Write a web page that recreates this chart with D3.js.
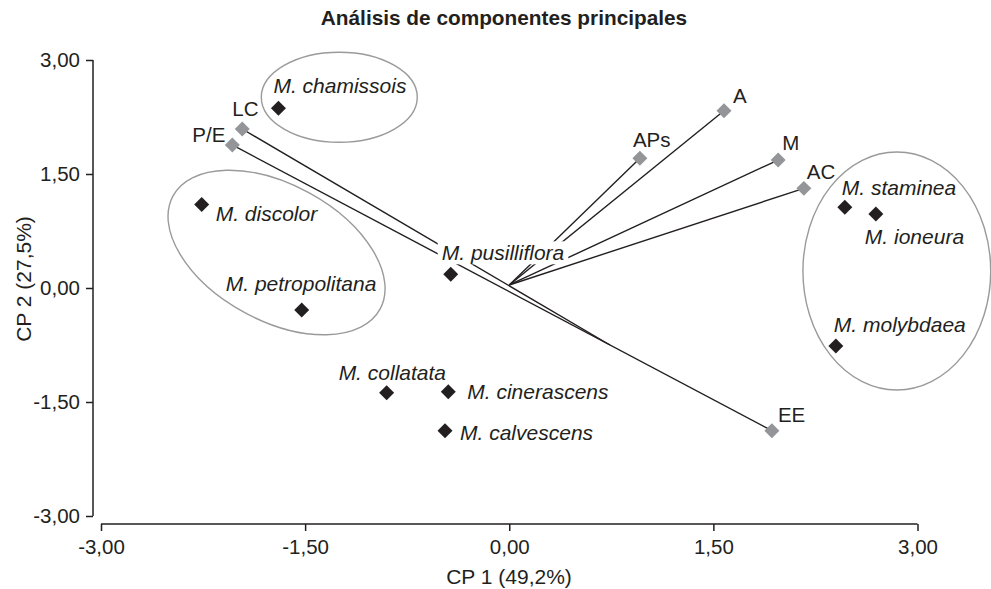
<!DOCTYPE html>
<html><head><meta charset="utf-8">
<script src="https://cdn.jsdelivr.net/npm/d3@7"></script>
<style>
html,body{margin:0;padding:0;background:#fff;}
svg{display:block;font-family:"Liberation Sans",Arial,sans-serif;}
svg text{font-family:"Liberation Sans",Arial,sans-serif;}
</style></head>
<body>
<svg id="chart" width="991" height="589"></svg>
<script>
// ---- data ----
const title = "Análisis de componentes principales";
const xTitle = "CP 1 (49,2%)";
const yTitle = "CP 2 (27,5%)";
const tickValues = [-3, -1.5, 0, 1.5, 3];

const speciesNames = ["M. chamissois","M. discolor","M. petropolitana","M. pusilliflora","M. collatata","M. cinerascens","M. calvescens","M. staminea","M. ioneura","M. molybdaea"];
const speciesCP1 = [-1.696,-2.260,-1.525,-0.430,-0.901,-0.448,-0.472,2.466,2.694,2.400];
const speciesCP2 = [2.364,1.100,-0.289,0.180,-1.378,-1.364,-1.878,1.062,0.974,-0.763];

const varNames = ["A","APs","M","AC","EE","LC","P/E"];
const varCP1 = [1.578,0.960,1.976,2.165,1.930,-1.962,-2.035];
const varCP2 = [2.333,1.706,1.684,1.311,-1.878,2.092,1.882];

const vectorOrigin = [0, 0.04];
// line segments: [from, to] (names refer to variables, or coordinates)
const segFrom = ["origin","origin","origin","origin","P/E","LC"];
const segTo   = ["A","APs","M","AC","EE",[0.74,-0.75]];

// grouping ellipses: centre (data), radii (data units), rotation (deg)
const ellCX = [-1.249, 2.848, -1.71];
const ellCY = [2.51, 0.224, 0.467];
const ellRX = [0.573, 0.69, 0.867];
const ellRY = [0.592, 1.566, 0.895];
const ellAngle = [0, 0, 28.7];

// ---- layout / style ----
const labelOffsets = {
  "M. chamissois":[-5,-15],"M. discolor":[14,17],"M. petropolitana":[-76,-19],
  "M. pusilliflora":[-9,-14],"M. collatata":[-48,-13],"M. cinerascens":[19,7],
  "M. calvescens":[15,9],"M. staminea":[-3,-12],"M. ioneura":[-11,30],"M. molybdaea":[-2,-14],
  "A":[9,-8],"APs":[-7,-11],"M":[4,-10],"AC":[3,-9],"EE":[6,-9],"LC":[-10,-13],"P/E":[-40,-3]
};
const boxedLabels = ["M. pusilliflora"];
const dark = "#231f20", grey = "#939598", ellColor = "#9a9a9a";

const svg = d3.select("#chart");
const x = d3.scaleLinear().domain([-3,3]).range([101,917.5]);
const y = d3.scaleLinear().domain([-3,3]).range([516,60]);
const fmt = d => d3.format(".2f")(d).replace(".", ",").replace("\u2212", "-");

// title
svg.append("text").attr("x",504).attr("y",25).attr("text-anchor","middle")
  .attr("font-weight","bold").attr("font-size",20.8).attr("fill",dark).text(title);

// axes
const yAxis = svg.append("g").attr("transform","translate(93,0)")
  .call(d3.axisLeft(y).tickValues(tickValues).tickFormat(fmt).tickSize(7).tickPadding(6));
const xAxis = svg.append("g").attr("transform","translate(0,524)")
  .call(d3.axisBottom(x).tickValues(tickValues).tickFormat(fmt).tickSize(7).tickPadding(8));
[xAxis,yAxis].forEach(g=>{
  g.select(".domain").attr("stroke",dark).attr("stroke-width",1.5);
  g.selectAll(".tick line").attr("stroke",dark).attr("stroke-width",1.5);
  g.selectAll(".tick text").attr("font-size",20.5).attr("fill",dark).attr("font-family",null);
});
xAxis.select(".domain").attr("d",`M${x(-3)},0H${x(3)}`);
yAxis.select(".domain").attr("d",`M0,${y(3)}V${y(-3)}`);

svg.append("text").attr("x",509).attr("y",584).attr("text-anchor","middle")
  .attr("font-size",21).attr("fill",dark).text(xTitle);
svg.append("text").attr("transform","translate(31,279) rotate(-90)").attr("text-anchor","middle")
  .attr("font-size",21).attr("fill",dark).text(yTitle);

// ellipses
const ellG = svg.append("g");
ellCX.forEach((cx,i)=>{
  const px = x(cx), py = y(ellCY[i]);
  ellG.append("ellipse")
    .attr("transform",`translate(${px},${py}) rotate(${ellAngle[i]})`)
    .attr("rx", x(ellRX[i]) - x(0)).attr("ry", y(0) - y(ellRY[i]))
    .attr("fill","none").attr("stroke",ellColor).attr("stroke-width",1.4);
});

// segments
const varPos = {};
varNames.forEach((n,i)=>varPos[n]=[varCP1[i],varCP2[i]]);
const resolve = p => p==="origin" ? vectorOrigin : (typeof p==="string" ? varPos[p] : p);
segFrom.forEach((f,i)=>{
  const a = resolve(f), b = resolve(segTo[i]);
  svg.append("line").attr("x1",x(a[0])).attr("y1",y(a[1])).attr("x2",x(b[0])).attr("y2",y(b[1]))
    .attr("stroke",dark).attr("stroke-width",1.4);
});

const diamond = d3.symbol().type(d3.symbolSquare).size(112);

// variable markers + labels
varNames.forEach((n,i)=>{
  const px = x(varCP1[i]), py = y(varCP2[i]);
  svg.append("path").attr("d",diamond()).attr("transform",`translate(${px},${py}) rotate(45)`).attr("fill",grey);
  const o = labelOffsets[n];
  svg.append("text").attr("x",px+o[0]).attr("y",py+o[1]).attr("font-size",20.5).attr("fill",dark).text(n);
});

// species markers + labels
speciesNames.forEach((n,i)=>{
  const px = x(speciesCP1[i]), py = y(speciesCP2[i]);
  svg.append("path").attr("d",diamond()).attr("transform",`translate(${px},${py}) rotate(45)`).attr("fill",dark);
  const o = labelOffsets[n];
  const t = svg.append("text").attr("x",px+o[0]).attr("y",py+o[1]).attr("font-size",21)
    .attr("font-style","italic").attr("fill",dark).text(n);
  if (boxedLabels.includes(n)) {
    const bb = t.node().getBBox();
    svg.insert("rect", () => t.node()).attr("x",bb.x-4).attr("y",bb.y).attr("width",bb.width+8).attr("height",bb.height)
      .attr("fill","#fff");
  }
});
</script>
</body></html>
